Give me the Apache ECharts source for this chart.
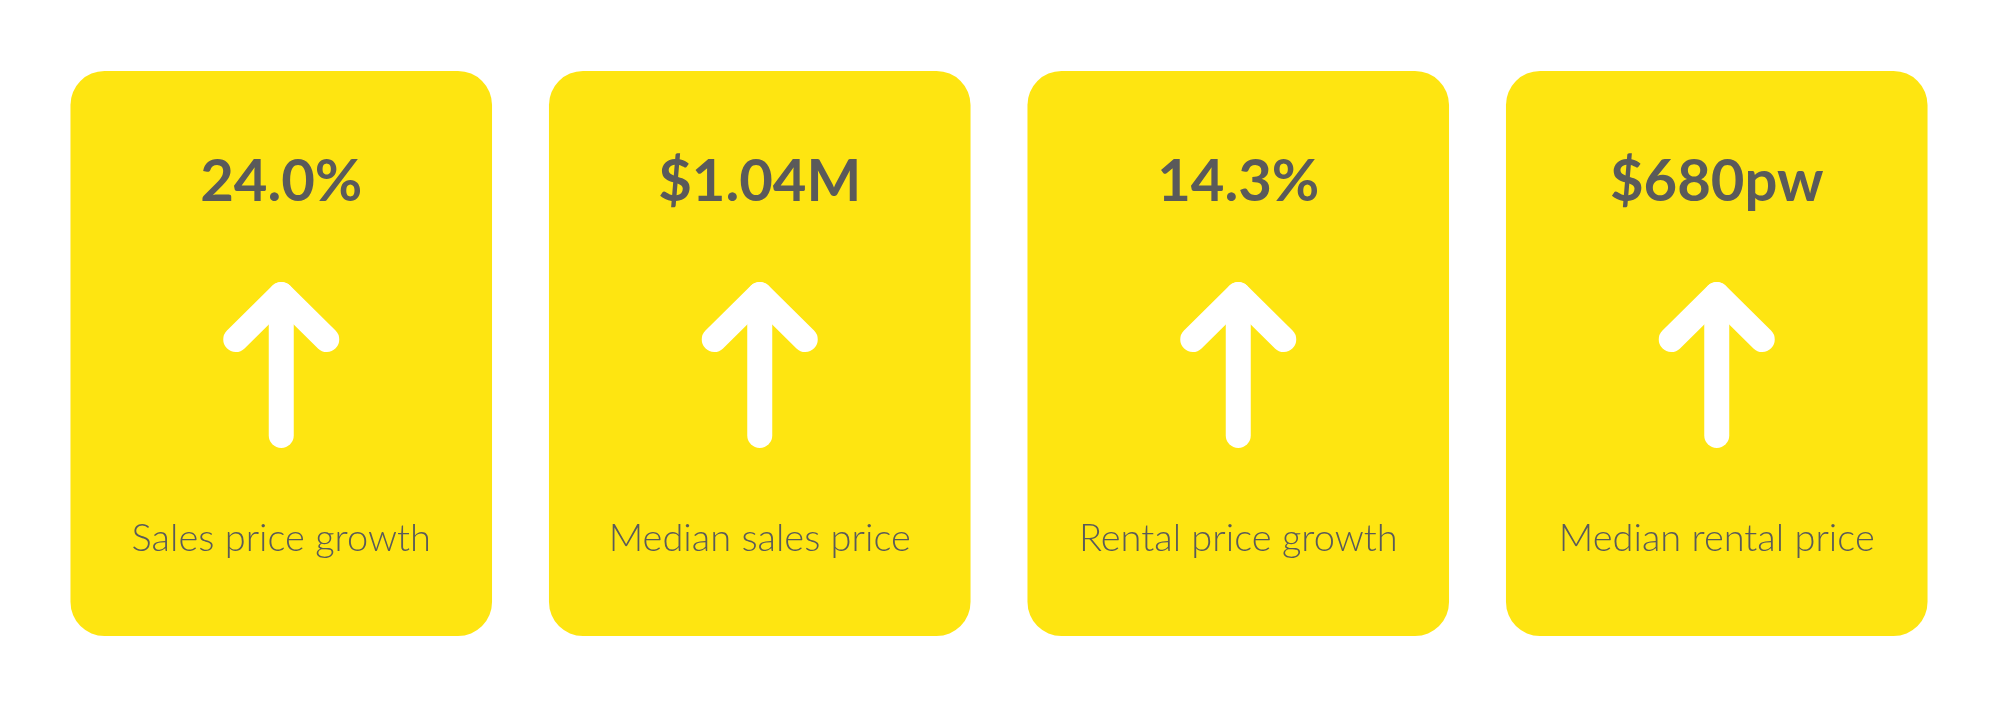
<!DOCTYPE html>
<html>
<head>
<meta charset="utf-8">
<script src="https://cdn.jsdelivr.net/npm/echarts@6/dist/echarts.min.js"></script>
<style>
html,body{margin:0;padding:0;background:#ffffff;}
#chart{width:2000px;height:707px;}
</style>
</head>
<body>
<div id="chart"></div>
<script>
// Data
const categories = ['Sales price growth', 'Median sales price', 'Rental price growth', 'Median rental price'];
const valueTexts = ['24.0%', '$1.04M', '14.3%', '$680pw'];
const directions = ['up', 'up', 'up', 'up'];

const CARD_COLOR = '#FEE511';
const TEXT_COLOR = '#5A5A5A';

const chart = echarts.init(document.getElementById('chart'), null, {renderer: 'canvas'});

const seriesData = categories.map((c, i) => [i, 1]);

function renderItem(params, api) {
  const idx = params.dataIndex;
  const cx = api.coord([api.value(0), 0])[0];
  const bw = api.size([1, 0])[0];
  const yTop = api.coord([0, 1])[1];
  const yBot = api.coord([0, 0])[1];
  const w = bw * 0.881;
  const children = [];
  children.push({
    type: 'rect',
    shape: {x: cx - w / 2, y: yTop, width: w, height: yBot - yTop, r: 34},
    style: {fill: CARD_COLOR}
  });
  const up = directions[idx] === 'up';
  const apexY = up ? yTop + 223.5 : yTop + 364.5;
  const tailY = up ? yTop + 364.5 : yTop + 223.5;
  const armDy = up ? 45 : -45;
  children.push({
    type: 'polyline',
    shape: {points: [[cx - 45.5, apexY + armDy], [cx, apexY], [cx + 45.5, apexY + armDy]]},
    style: {stroke: '#ffffff', lineWidth: 25, lineCap: 'round', lineJoin: 'round', fill: null}
  });
  children.push({
    type: 'line',
    shape: {x1: cx, y1: apexY, x2: cx, y2: tailY},
    style: {stroke: '#ffffff', lineWidth: 25, lineCap: 'round'}
  });
  children.push({
    type: 'text',
    style: {
      x: cx, y: yTop + 111,
      text: valueTexts[idx],
      fill: TEXT_COLOR,
      font: 'bold 58px Lato',
      align: 'center', verticalAlign: 'middle'
    }
  });
  children.push({
    type: 'text',
    style: {
      x: cx, y: yTop + 468,
      text: categories[idx],
      fill: TEXT_COLOR,
      font: '300 38px Lato',
      align: 'center', verticalAlign: 'middle'
    }
  });
  return {type: 'group', children: children};
}

chart.setOption({
  animation: false,
  backgroundColor: '#ffffff',
  grid: {left: 42, right: 44, top: 71, bottom: 71},
  xAxis: {
    type: 'category', data: categories, boundaryGap: true,
    show: false
  },
  yAxis: {type: 'value', min: 0, max: 1, show: false},
  series: [{
    type: 'custom',
    renderItem: renderItem,
    data: seriesData,
    clip: false
  }]
});
</script>
</body>
</html>
